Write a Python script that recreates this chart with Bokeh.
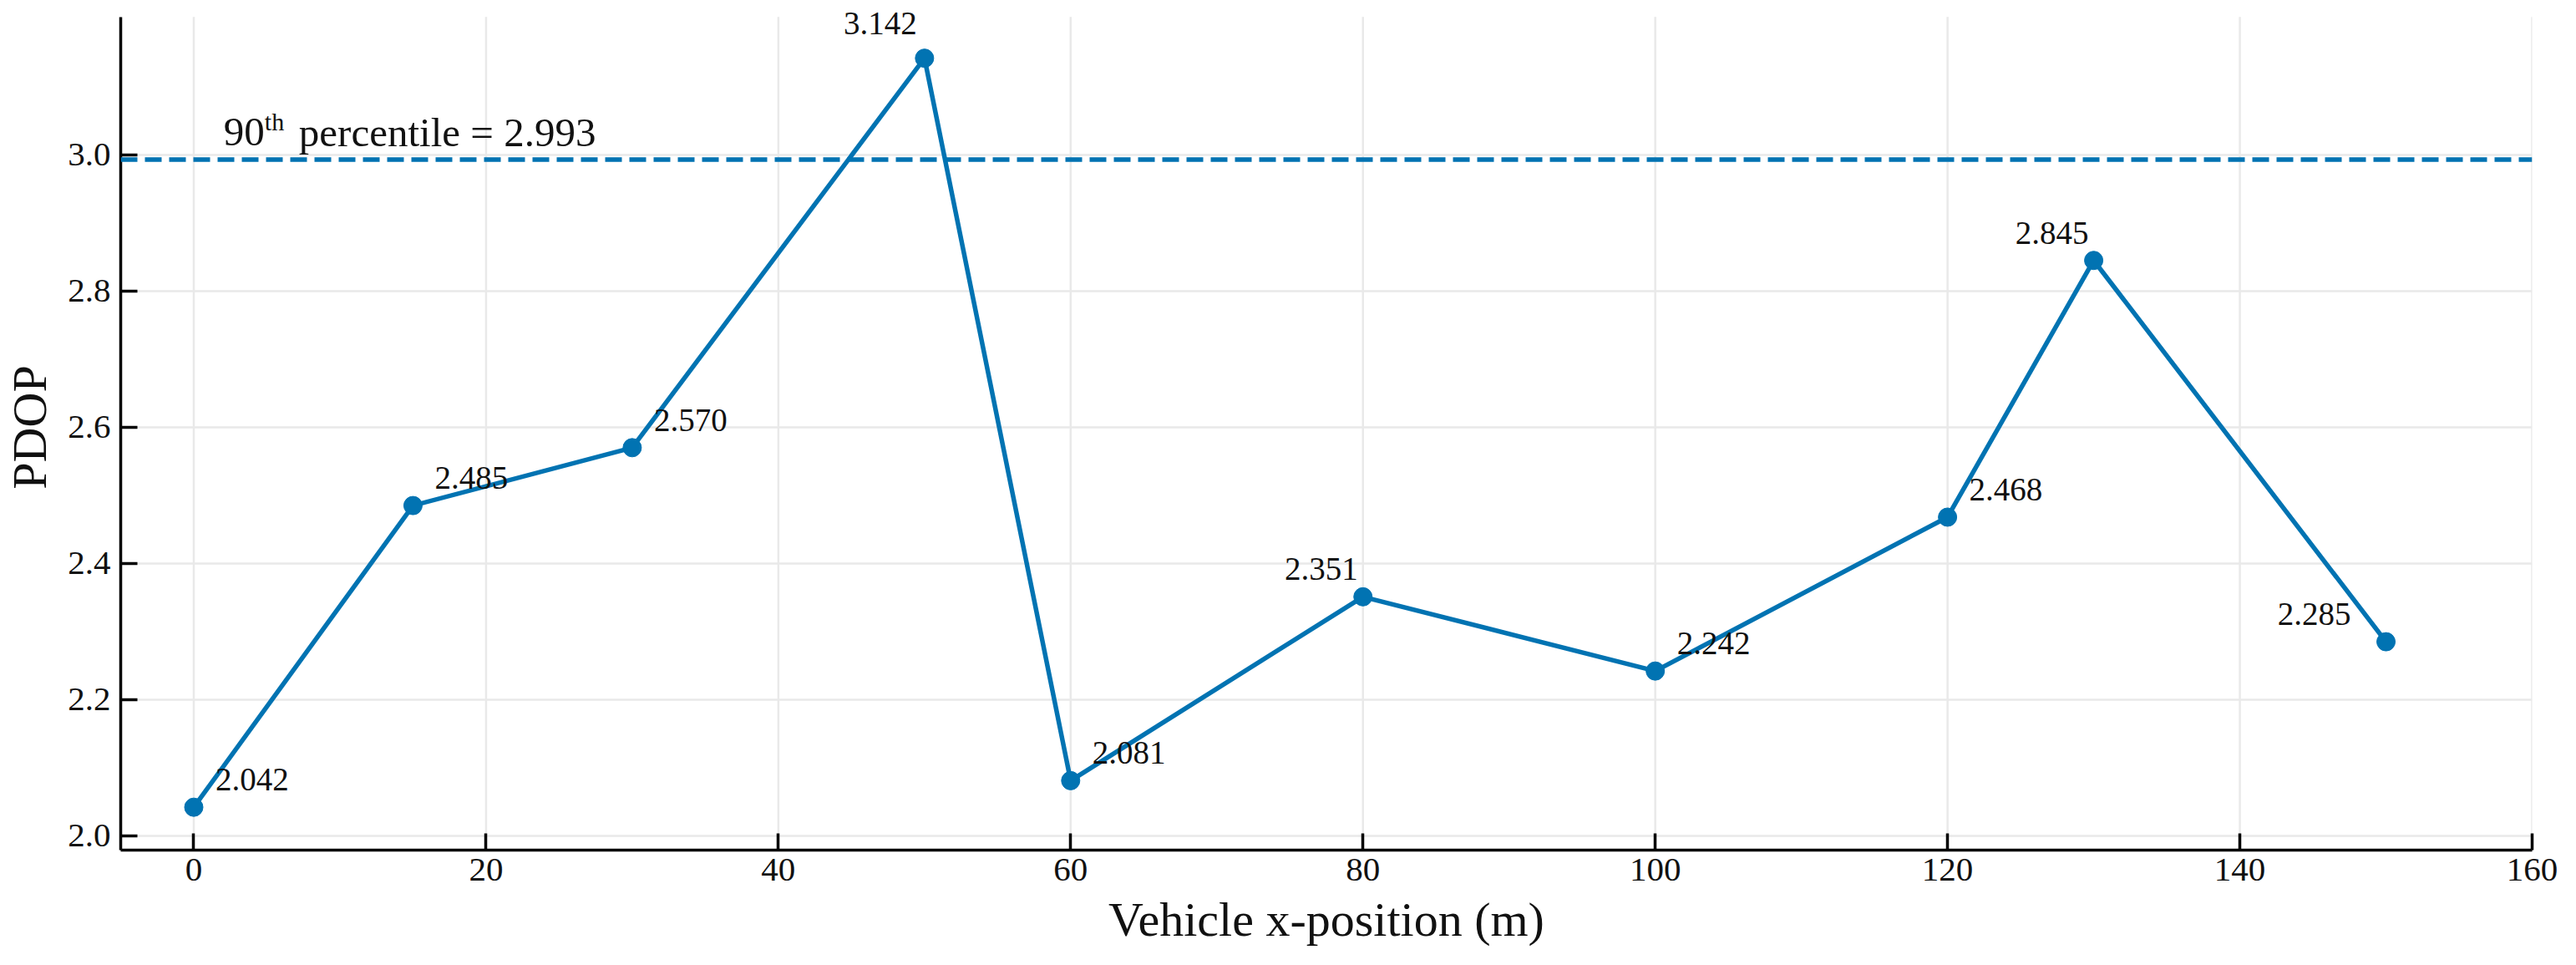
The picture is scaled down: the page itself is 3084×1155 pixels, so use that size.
from bokeh.plotting import figure
from bokeh.models import ColumnDataSource, Range1d, FixedTicker, PrintfTickFormatter, Span
from bokeh.core.properties import value
from bokeh.embed import file_html
from bokeh.resources import INLINE

# ---- data ----
x_pos = [0, 15, 30, 50, 60, 80, 100, 120, 130, 150]
pdop = [2.042, 2.485, 2.570, 3.142, 2.081, 2.351, 2.242, 2.468, 2.845, 2.285]
p90 = 2.993
x_ticks = [0, 20, 40, 60, 80, 100, 120, 140, 160]
y_ticks = [2.0, 2.2, 2.4, 2.6, 2.8, 3.0]
x_label = "Vehicle x-position (m)"
y_label = "PDOP"

# axis extents
X_LO, X_HI = -5, 160
Y_LO, Y_HI = 1.979, 3.2025

# label placement style (which side of the point each value label sits)
label_side = ["r", "r", "r", "l", "r", "l", "r", "r", "l", "l"]

FONT = "Liberation Serif"
BLUE = "#0173B2"
TXT = "#111111"

# frame extends a little above the axis top so the peak label is not clipped
p = figure(width=3068, height=1139, output_backend="svg", toolbar_location=None,
           x_range=Range1d(X_LO, X_HI), y_range=Range1d(Y_LO, Y_LO + 1012 / 815.0),
           min_border_left=141, min_border_right=37, min_border_top=5, min_border_bottom=122)
p.outline_line_color = None
p.background_fill_color = "white"
p.border_fill_color = "white"

# grid
p.xgrid.visible = False
p.ygrid.grid_line_color = "#e9e9e9"
p.ygrid.grid_line_width = 2.5
p.ygrid.ticker = FixedTicker(ticks=y_ticks)
p.segment(x0=x_ticks, y0=[Y_LO] * len(x_ticks), x1=x_ticks, y1=[Y_HI] * len(x_ticks),
          line_color="#e9e9e9", line_width=2.5, level="underlay")

# axes
p.xaxis.ticker = FixedTicker(ticks=x_ticks)
p.yaxis.ticker = FixedTicker(ticks=y_ticks)
p.yaxis.bounds = (Y_LO, Y_HI)
p.xaxis.formatter = PrintfTickFormatter(format="%d")
p.yaxis.formatter = PrintfTickFormatter(format="%.1f")
for ax in (p.xaxis[0], p.yaxis[0]):
    ax.axis_line_color = "black"
    ax.axis_line_width = 3.5
    ax.major_tick_line_color = "black"
    ax.major_tick_line_width = 3.5
    ax.major_tick_in = 20
    ax.major_tick_out = 0
    ax.minor_tick_line_color = None
    ax.major_label_text_font = FONT
    ax.major_label_text_font_size = "41px"
    ax.major_label_text_color = TXT
    ax.axis_label_text_font = FONT
    ax.axis_label_text_font_size = "58px"
    ax.axis_label_text_font_style = "normal"
    ax.axis_label_text_color = TXT
p.xaxis.axis_label = x_label
p.yaxis.axis_label = y_label
p.xaxis.major_label_standoff = 10
p.yaxis.major_label_standoff = 12
p.xaxis.axis_label_standoff = 11
p.yaxis.axis_label_standoff = 10

# 90th percentile line
p.add_layout(Span(location=p90, dimension="width", line_color=BLUE,
                  line_width=5.5, line_dash="20 9"))

# series
src = ColumnDataSource(dict(x=x_pos, y=pdop))
p.line("x", "y", source=src, line_color=BLUE, line_width=5.5)
p.scatter("x", "y", source=src, size=22, fill_color=BLUE, line_color=BLUE)

# value labels
peak = pdop.index(max(pdop))
xo, yo, al = [], [], []
for i, s in enumerate(label_side):
    if s == "r":
        xo.append(26); al.append("left")
    else:
        xo.append(-6); al.append("right")
    yo.append(-33)
xo[-1] = -42
xo[peak] = -9
yo[peak] = -42
lab = ColumnDataSource(dict(x=x_pos, y=pdop, t=["%.3f" % v for v in pdop],
                            xo=xo, yo=yo, al=al))
p.text("x", "y", text="t", source=lab, x_offset="xo", y_offset="yo",
       text_align="al", text_baseline="middle",
       text_font=value(FONT), text_font_size=value("39px"), text_color=TXT)

# percentile annotation: "90" + superscript "th" + " percentile = 2.993"
lx = 2.05
pct = ColumnDataSource(dict(x=[lx, lx, lx], y=[p90] * 3,
                            t=["90", "th", "percentile = %.3f" % p90],
                            xo=[0, 49, 90], yo=[-33, -46, -33],
                            fs=["49px", "30px", "49px"]))
p.text("x", "y", text="t", source=pct, x_offset="xo", y_offset="yo",
       text_font_size="fs", text_align="left", text_baseline="middle",
       text_font=value(FONT), text_color=TXT)

open("out.html", "w").write(file_html(p, INLINE))
